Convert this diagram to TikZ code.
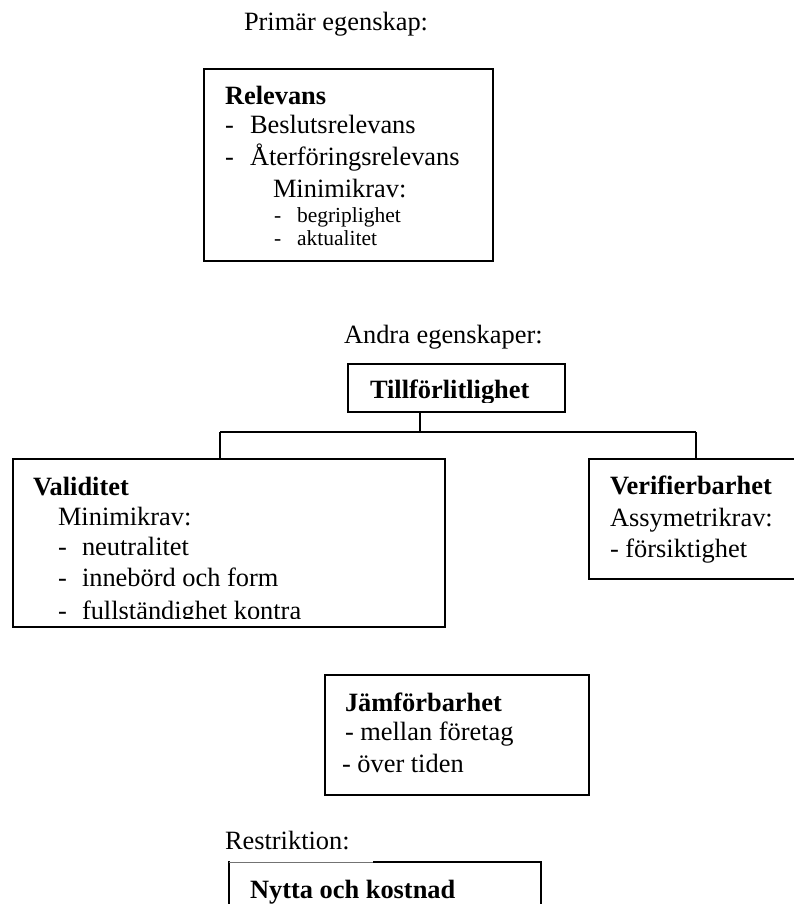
\documentclass[tikz,border=0pt]{standalone}
\usepackage{fontspec}
\setmainfont{Liberation Serif}
\newcommand\bigf{\fontsize{26.4}{30}\selectfont}
\newcommand\smf{\fontsize{21.5}{24}\selectfont}
\begin{document}
\begin{tikzpicture}[x=1pt,y=-1pt,
  txt/.style={anchor=base west, inner sep=0pt, outer sep=0pt, font=\bigf},
  hd/.style={anchor=base west, inner sep=0pt, outer sep=0pt, font=\bigf\bfseries},
  sm/.style={anchor=base west, inner sep=0pt, outer sep=0pt, font=\smf},
  bx/.style={draw, line width=1.8pt, inner sep=0pt, outer sep=0pt},
  conn/.style={line width=1.6pt}]
\useasboundingbox (0,0) rectangle (794,904);
\clip (0,0) rectangle (794,904);

% Primary
\node[txt] (prim) at (244,31) {Primär egenskap:};
\node[bx, minimum width=289pt, minimum height=192pt] (relbox) at (348.5,165) {};
\node[hd] (rel) at (225,105) {Relevans};
\node[txt] (d1) at (225,134) {-};
\node[txt] (besl) at (250,134) {Beslutsrelevans};
\node[txt] (d2) at (225,166) {-};
\node[txt] (ater) at (250,166) {Återföringsrelevans};
\node[txt] (mini1) at (273,197) {Minimikrav:};
\node[sm] (d3) at (274,222) {-};
\node[sm] (begr) at (297,222) {begriplighet};
\node[sm] (d4) at (274,245) {-};
\node[sm] (akt) at (297,245) {aktualitet};

% Other properties
\node[txt] (andra) at (344,343) {Andra egenskaper:};
\node[bx, minimum width=217pt, minimum height=48pt] (tillbox) at (456.5,388) {};
\begin{scope}
  \clip (348,364) rectangle (565,402);
  \node[hd] (till) at (370,398) {Tillförlitlighet};
\end{scope}

\node[bx, minimum width=432pt, minimum height=168pt] (valbox) at (229,543) {};
\node[hd] (val) at (33,495) {Validitet};
\node[txt] (mini2) at (58,525) {Minimikrav:};
\node[txt] (d5) at (58,555) {-};
\node[txt] (neut) at (82,555) {neutralitet};
\node[txt] (d6) at (58,586) {-};
\node[txt] (inne) at (82,586) {innebörd och form};
\begin{scope}
  \clip (13,459) rectangle (445,618);
  \node[txt] (d7) at (58,619) {-};
  \node[txt] (full) at (82,619) {fullständighet kontra};
\end{scope}

\node[bx, minimum width=221pt, minimum height=120pt] (verbox) at (699.5,519) {};
\node[hd] (ver) at (610,494) {Verifierbarhet};
\node[txt] (assy) at (610,526) {Assymetrikrav:};
\node[txt] (fors) at (610,557) {- försiktighet};

% connectors
\coordinate (hc) at (420,432);
\coordinate (hl) at (220,432);
\coordinate (hr) at (696,432);
\draw[conn] (hc |- tillbox.south) -- (hc);
\draw[conn] (hl) -- (hr);
\draw[conn] (hl) -- (hl |- valbox.north);
\draw[conn] (hr) -- (hr |- verbox.north);

% Comparability
\node[bx, minimum width=264pt, minimum height=120pt] (jambox) at (457,735) {};
\node[hd] (jam) at (345,711) {Jämförbarhet};
\node[txt] (mell) at (345,740) {- mellan företag};
\node[txt] (over) at (342,772) {- över tiden};

% Restriction
\node[txt] (restr) at (225,849) {Restriktion:};
\node[bx, minimum width=312pt, minimum height=60pt] (nybox) at (385,892) {};
\draw[white, line width=2.4pt] (nybox.north west) ++(1,0) -- ++(143,0);
\draw[black!55, line width=0.8pt] (nybox.north west) -- ++(144,0);
\node[hd] (nytta) at (250,898) {Nytta och kostnad};
\end{tikzpicture}
\end{document}
